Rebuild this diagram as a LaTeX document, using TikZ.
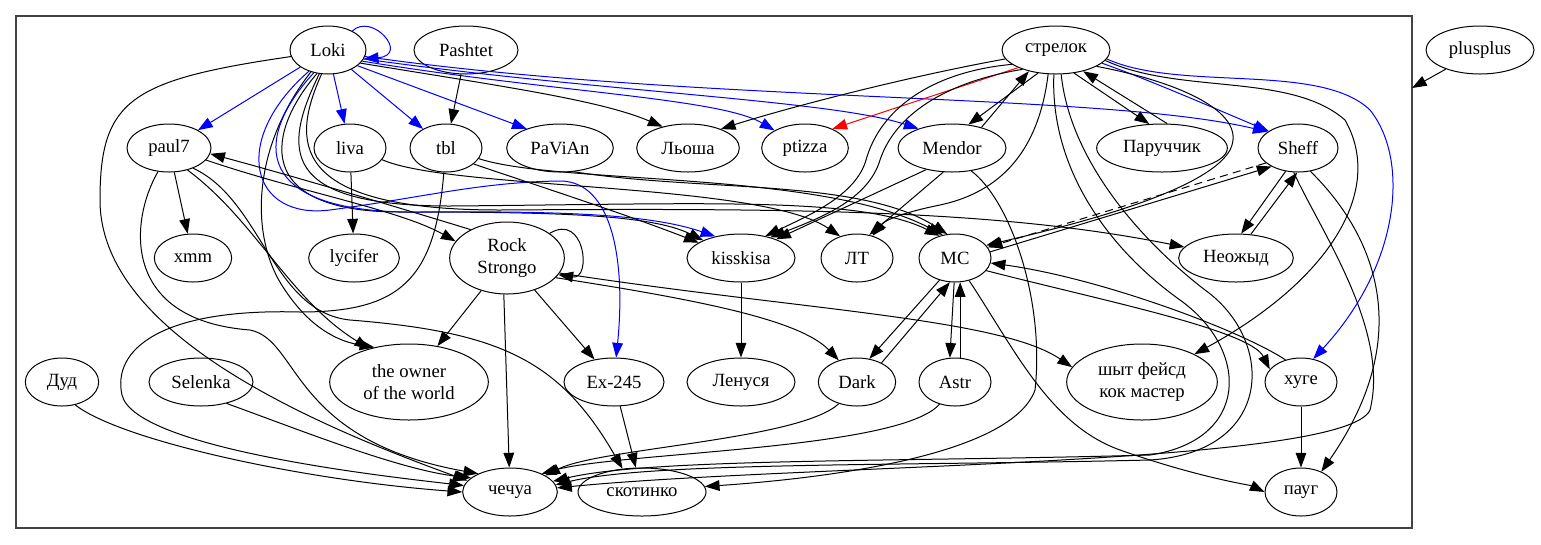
\documentclass[tikz,border=0pt]{standalone}
\usepackage{fontspec}
\setmainfont{Liberation Serif}
\usetikzlibrary{shapes.geometric,arrows.meta}
\definecolor{framegray}{HTML}{444444}
\tikzset{
  nd/.style={ellipse, draw, line width=.75pt, inner sep=0pt, minimum height=36pt,
    align=center, font=\fontsize{14}{16}\selectfont},
  ed/.style={-{Triangle[length=11pt,width=8pt]}, line width=.75pt},
  bl/.style={ed, blue},
  rd/.style={ed, red},
}
\begin{document}
\begin{tikzpicture}[x=0.75pt,y=-0.75pt]
\useasboundingbox (0,0) rectangle (1541,544);
\draw[framegray, line width=1pt] (16,16) rectangle (1412,528);
\coordinate (frameR) at (1412,88); %% where plusplus hits the cluster
% row 1
\node[nd, minimum width=57pt] (Loki) at (328,50) {Loki};
\node[nd, minimum width=78pt] (Pashtet) at (466,50) {Pashtet};
\node[nd, minimum width=81pt] (strelok) at (1056,50) {стрелок};
\node[nd, minimum width=81pt] (plusplus) at (1480,50) {plusplus};
% row 2
\node[nd, minimum width=63pt] (paul7) at (169,148) {paul7};
\node[nd, minimum width=54pt] (liva) at (350,148) {liva};
\node[nd, minimum width=54pt] (tbl) at (446,148) {tbl};
\node[nd, minimum width=80pt] (PaViAn) at (560,148) {PaViAn};
\node[nd, minimum width=77pt] (Lyosha) at (688,148) {Льоша};
\node[nd, minimum width=65pt] (ptizza) at (805,148) {ptizza};
\node[nd, minimum width=81pt] (Mendor) at (952,148) {Mendor};
\node[nd, minimum width=98pt] (Paruch) at (1162,148) {Паруччик};
\node[nd, minimum width=60pt] (Sheff) at (1298,148) {Sheff};
% row 3
\node[nd, minimum width=58pt] (xmm) at (193,258) {xmm};
\node[nd, minimum width=68pt] (lycifer) at (354,258) {lycifer};
\node[nd, minimum width=86pt, minimum height=54pt] (Rock) at (507,258) {Rock\\Strongo};
\node[nd, minimum width=81pt] (kisskisa) at (741,258) {kisskisa};
\node[nd, minimum width=54pt] (LT) at (857,258) {ЛТ};
\node[nd, minimum width=54pt] (MC) at (955,258) {MC};
\node[nd, minimum width=86pt] (Neozh) at (1236,258) {Неожыд};
% row 4
\node[nd, minimum width=55pt] (Dud) at (62,382) {Дуд};
\node[nd, minimum width=78pt] (Selenka) at (201,382) {Selenka};
\node[nd, minimum width=119pt, minimum height=57pt] (owner) at (409,382) {the owner\\of the world};
\node[nd, minimum width=75pt] (Ex) at (614,382) {Ex-245};
\node[nd, minimum width=81pt] (Lenusya) at (741,382) {Ленуся};
\node[nd, minimum width=58pt] (Dark) at (857,382) {Dark};
\node[nd, minimum width=54pt] (Astr) at (955,382) {Astr};
\node[nd, minimum width=113pt, minimum height=57pt] (shyt) at (1142,382) {шыт фейсд\\кок мастер};
\node[nd, minimum width=54pt] (huge) at (1301,382) {хуге};
% row 5
\node[nd, minimum width=71pt] (chechua) at (510,492) {чечуа};
\node[nd, minimum width=96pt] (skotinko) at (642,492) {скотинко};
\node[nd, minimum width=54pt] (paug) at (1301,492) {пауг};

%% Loki
\draw[bl] (Loki.38) .. controls (372,12) and (410,55) .. (Loki.-14);
\draw[bl] (Loki) -- (paul7);
\draw[bl] (Loki) -- (liva);
\draw[bl] (Loki) -- (tbl);
\draw[bl] (Loki.-28) -- (PaViAn.150);
\draw[bl] (Loki.-18) .. controls (550,92) and (720,98) .. (ptizza.150);
\draw[bl] (Loki.-14) .. controls (600,92) and (830,100) .. (Mendor.150);
\draw[bl] (Loki.-10) .. controls (700,104) and (1100,92) .. (Sheff.152);
\draw[ed] (Loki.-22) .. controls (500,86) and (600,100) .. (Lyosha.140);
\draw[ed] (Loki.190) .. controls (130,80) and (100,100) .. (100,200) .. controls (100,330) and (300,420) .. (chechua.165);
\draw[ed] (Loki.232) .. controls (250,150) and (250,240) .. (285,290) .. controls (305,320) and (330,340) .. (owner.135);
\draw[ed] (Loki.245) .. controls (268,130) and (250,212) .. (400,212) .. controls (550,212) and (650,214) .. (kisskisa.155);
\draw[bl] (Loki.238) .. controls (252,140) and (252,214) .. (420,212) .. controls (560,211) and (650,214) .. (kisskisa.140);
\draw[bl] (Loki.228) .. controls (230,140) and (250,220) .. (330,210) .. controls (420,198) and (480,182) .. (560,181) .. controls (612,181) and (626,260) .. (Ex.85);
\draw[ed] (Loki.250) .. controls (282,150) and (280,206) .. (450,206) .. controls (700,204) and (860,196) .. (MC.125);
\draw[ed] (Loki.255) .. controls (292,140) and (286,210) .. (500,210) .. controls (800,208) and (1000,210) .. (Neozh.168);
\draw[ed] (Pashtet) -- (tbl);

%% strelok
\draw[ed] (strelok.190) .. controls (900,78) and (780,110) .. (Lyosha.30);
\draw[rd] (strelok.205) -- (ptizza.35);
\draw[ed] (strelok.198) .. controls (930,72) and (880,110) .. (866,160) .. controls (856,195) and (810,215) .. (kisskisa.42);
\draw[ed] (strelok.210) .. controls (945,82) and (895,115) .. (880,160) .. controls (868,200) and (820,218) .. (kisskisa.35);
\draw[ed] (strelok.232) -- (Mendor.55);
\draw[ed] (Mendor.35) -- (strelok.218);
\draw[ed] (strelok.-52) -- (Paruch.118);
\draw[ed] (Paruch.78) -- (strelok.-38);
\draw[bl] (strelok.-16) .. controls (1150,80) and (1230,115) .. (Sheff.150);
\draw[bl] (strelok.-10) .. controls (1180,92) and (1320,62) .. (1370,110) .. controls (1410,160) and (1400,265) .. (huge.62);
\draw[ed] (strelok.-12) .. controls (1180,95) and (1290,72) .. (1345,120) .. controls (1385,190) and (1330,280) .. (shyt.28);
\draw[ed] (strelok.-22) .. controls (1170,80) and (1250,110) .. (1230,150) .. controls (1205,195) and (1050,230) .. (MC.22);
\draw[ed] (strelok.252) .. controls (1040,140) and (1010,190) .. (940,205) .. controls (905,212) and (885,220) .. (LT.55);
\draw[ed] (strelok.265) .. controls (1050,170) and (1110,250) .. (1180,300) .. controls (1250,350) and (1250,440) .. (1150,455) .. controls (900,462) and (650,458) .. (chechua.14);
\draw[ed] (strelok.282) .. controls (1070,160) and (1140,240) .. (1205,290) .. controls (1275,340) and (1275,452) .. (1150,460) .. controls (900,466) and (650,462) .. (chechua.9);

%% Sheff
\draw[ed] (Sheff.-100) .. controls (1320,230) and (1390,330) .. (1370,410) .. controls (1345,466) and (800,464) .. (chechua.5);
\draw[ed] (Sheff.-62) .. controls (1370,230) and (1420,330) .. (paug.45);
\draw[ed] (Sheff.-118) -- (Neozh.78);
\draw[ed] (Neozh.58) -- (Sheff.-92);
\draw[ed, dash pattern=on 6pt off 4pt] (Sheff.205) -- (MC.18);
\draw[ed] (MC.10) -- (Sheff.215);

%% MC
\draw[ed] (MC.-22) .. controls (1100,300) and (1250,330) .. (huge.158);
\draw[ed] (huge.125) .. controls (1240,330) and (1100,278) .. (MC.-8);
\draw[ed] (MC.235) -- (Dark.62);
\draw[ed] (Dark.38) -- (MC.258);
\draw[ed] (MC.268) -- (Astr.102);
\draw[ed] (Astr.78) -- (MC.-78);
\draw[ed] (MC.-58) .. controls (1015,350) and (1050,425) .. (1120,450) .. controls (1200,478) and (1250,485) .. (paug.180);
\draw[ed] (huge) -- (paug);
\draw[ed] (Dark.230) .. controls (800,440) and (600,448) .. (chechua.25);
\draw[ed] (Astr.235) .. controls (900,450) and (620,452) .. (chechua.30);

%% Mendor
\draw[ed] (Mendor.-50) .. controls (1010,200) and (1045,300) .. (1035,390) .. controls (1010,460) and (800,480) .. (skotinko.5);
\draw[ed] (Mendor.220) -- (kisskisa.28);
\draw[ed] (Mendor.250) -- (LT.62);

%% tbl, PaViAn, liva
\draw[ed] (tbl.-30) .. controls (520,180) and (620,212) .. (kisskisa.160);
\draw[ed] (tbl.-18) .. controls (560,185) and (820,170) .. (MC.118);
\draw[ed] (PaViAn.-60) .. controls (700,192) and (860,178) .. (MC.108);
\draw[ed] (liva.-20) .. controls (450,190) and (760,182) .. (LT.128);
\draw[ed] (liva) -- (lycifer);
\draw[ed] (tbl.265) .. controls (435,280) and (400,312) .. (300,312) .. controls (160,308) and (112,350) .. (122,395) .. controls (135,450) and (400,478) .. (chechua.172);

%% paul7
\draw[ed] (paul7) -- (xmm);
\draw[ed] (paul7.245) .. controls (130,220) and (120,320) .. (250,330) .. controls (300,340) and (290,440) .. (chechua.150);
\draw[ed] (paul7.-50) .. controls (255,220) and (290,300) .. (owner.140);
\draw[ed] (paul7.-40) .. controls (262,200) and (272,312) .. (350,320) .. controls (500,332) and (560,360) .. (skotinko.130);
\draw[ed] (paul7.-18) .. controls (300,192) and (400,210) .. (Rock.162);
\draw[ed] (Rock.142) .. controls (400,208) and (300,178) .. (paul7.-8);

%% Rock Strongo
\draw[ed] (Rock.30) .. controls (585,212) and (592,280) .. (Rock.-18);
\draw[ed] (Rock) -- (owner);
\draw[ed] (Rock) -- (Ex);
\draw[ed] (Rock.-95) -- (chechua);
\draw[ed] (Rock.-22) .. controls (700,300) and (800,320) .. (Dark.130);
\draw[ed] (Rock.-16) .. controls (800,310) and (1000,318) .. (shyt.168);

%% rest
\draw[ed] (kisskisa) -- (Lenusya);
\draw[ed] (Ex) -- (skotinko);
\draw[ed] (Dud.-60) .. controls (120,440) and (300,480) .. (chechua.180);
\draw[ed] (Selenka.-40) .. controls (300,430) and (400,470) .. (chechua.160);
\draw[ed] (plusplus) -- (frameR);
\end{tikzpicture}
\end{document}
